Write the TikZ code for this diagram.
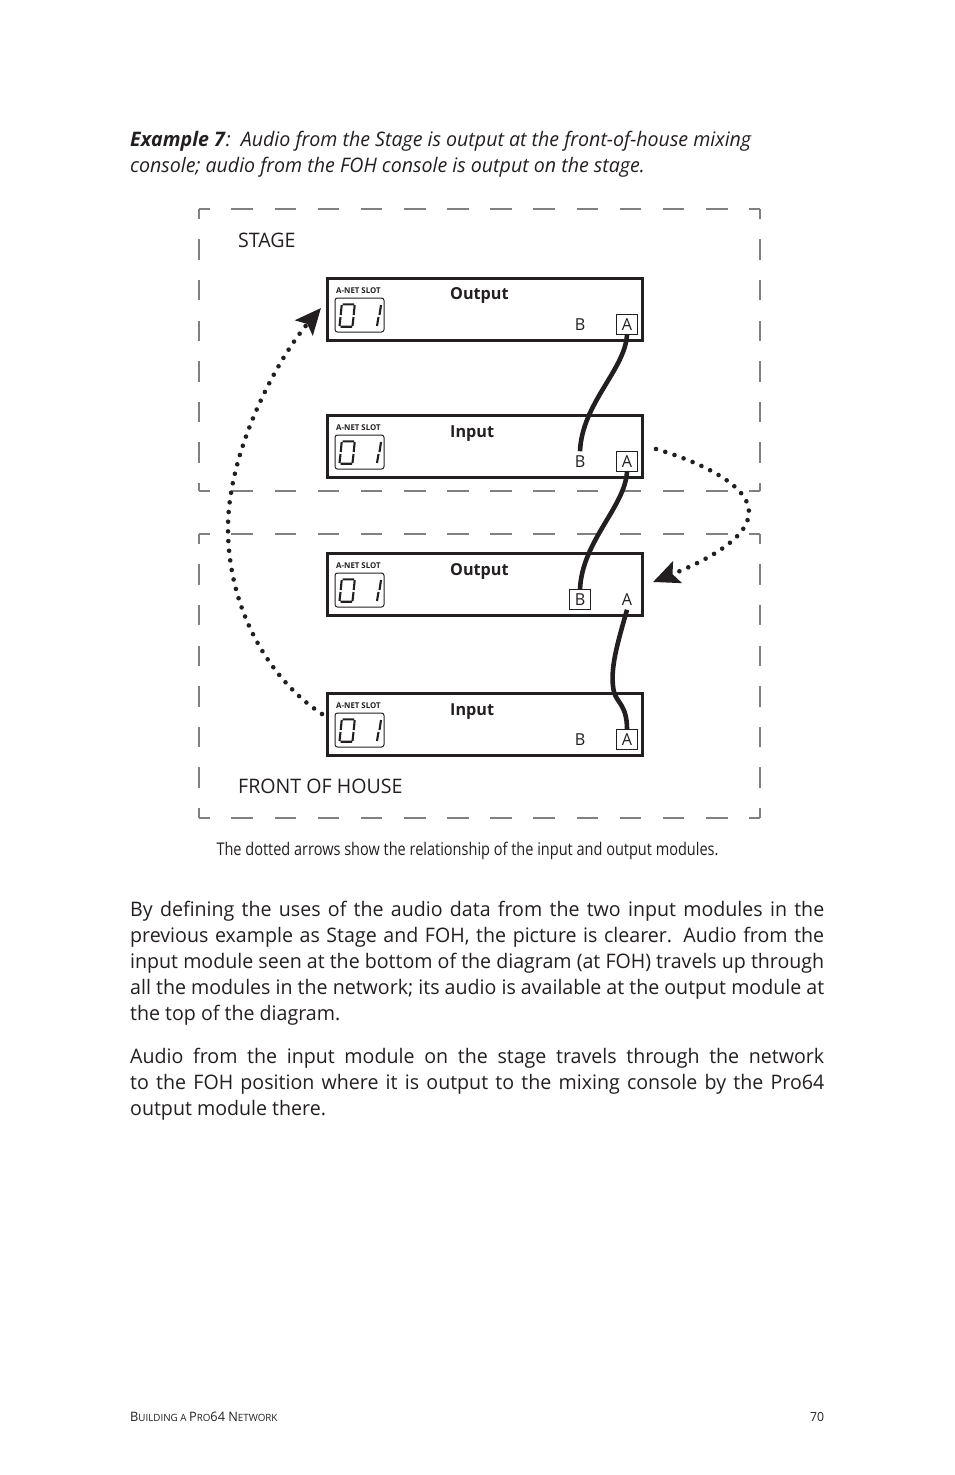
\documentclass[tikz,border=0pt]{standalone}
\usepackage{fontspec}
\usepackage{xcolor}
\usetikzlibrary{arrows.meta}
\setmainfont{Open Sans}[FakeStretch=0.98]
\newfontfamily\capfont{Open Sans}[FakeStretch=0.83]
\definecolor{pageink}{HTML}{231F20}
\definecolor{zonegray}{HTML}{808080}

\begin{document}
\begin{tikzpicture}[x=1pt,y=-1pt,
  point/.style={coordinate},
  module/.style={draw=pageink, line width=3pt, rectangle, anchor=north west, outer sep=0pt, minimum width=315.5pt, minimum height=62.5pt},
  slot/.style={draw=pageink, line width=1pt, rounded corners=2.5pt},
  segment/.style={draw=pageink, line width=2.1pt},
  plainport/.style={text=pageink, font=\fontsize{16.5}{18}\selectfont, inner sep=0pt, minimum width=21pt, minimum height=20.5pt, outer sep=0pt},
  boxedport/.style={plainport, draw=pageink, line width=1pt},
  cable/.style={draw=pageink, line width=4.6pt},
  relation/.style={draw=pageink, line width=4.6pt, line cap=round, dash pattern=on 0pt off 9.7pt, -{Stealth[length=26pt,width=23pt,inset=5pt]}},
  zoneh/.style={draw=zonegray, line width=1.1pt, dash pattern=on 21.55pt off 21.6pt, dash phase=10.8pt},
  zonev/.style={draw=zonegray, line width=1.1pt, dash pattern=on 20.3pt off 20.3pt, dash phase=10.15pt},
  line/.style={anchor=base west, inner sep=0pt, text=pageink, font=\fontsize{20}{26}\selectfont},
  para/.style={anchor=north west, inner sep=0pt, text=pageink, text width=694pt, align=justify, font=\fontsize{20}{26}\selectfont}]
\useasboundingbox (0,0) rectangle (954,1475);

\node[line] (head1) at (130,146) {\textbf{\textit{Example 7}}\textit{:\ \ Audio from the Stage is output at the front-of-house mixing}};
\node[line] (head2) at (130,172) {\textit{console; audio from the FOH console is output on the stage.}};

\foreach \ztop/\zbot in {209/491,534/818} {
  \draw[zoneh] (199,\ztop) -- (760,\ztop);
  \draw[zoneh] (199,\zbot) -- (760,\zbot);
  \draw[zonev] (199,\ztop) -- (199,\zbot);
  \draw[zonev] (760,\ztop) -- (760,\zbot);
}
\node[line] (stage) at (238,247) {STAGE};
\node[line] (foh) at (238,793) {FRONT OF HOUSE};

\foreach \n/\y/\lab/\laby/\bport/\aport in {1/278/Output/21.5/plainport/boxedport,2/415/Input/22.3/plainport/boxedport,3/553/Output/22.3/boxedport/plainport,4/693/Input/22.3/plainport/boxedport} {
  \node[module] (mod\n) at (327,\y) {};
  \begin{scope}[shift={(327,\y)}]
  \node[anchor=base west, inner sep=0pt, text=pageink, font=\fontsize{8}{9}\selectfont\bfseries] (slot\n) at (9,15.6) {A-NET SLOT};
  \draw[slot] (8,20) rectangle (57,54);
  \draw[segment] (15.5,26.3) -- (27,26.3) (27.7,27) -- (26.7,37) (26.5,39) -- (25.5,48) (13.5,48.7) -- (25,48.7) (12.5,48) -- (13.5,39) (13.7,37) -- (14.7,27);
  \draw[segment] (54,27) -- (52.5,37) (51.5,39) -- (50,48);
  \node[anchor=base west, inner sep=0pt, text=pageink, font=\fontsize{16.5}{18}\selectfont\bfseries] (lab\n) at (123,\laby) {\lab};
  \node[\bport] (b\n) at (253,46.5) {B};
  \node[\aport] (a\n) at (300,46.5) {A};
  \end{scope}
}

\draw[cable] (a1.south) .. controls +(-2,35) and +(2,-48) .. (b2.north);
\draw[cable] (a2.south) .. controls +(-2,35) and +(2,-48) .. (b3.north);
\draw[cable] (a3.south) .. controls +(-9,32) and +(-5,-22) .. (614,692) .. controls +(3,11) and +(0,-24) .. (a4.north);

\node[point] (infoh) at (322,714) {};
\node[point] (outstage) at (321,308) {};
\node[point] (instage) at (656,449) {};
\node[point] (outfoh) at (653,582) {};
\draw[relation] (infoh) .. controls +(-52,-34) and +(0,82) .. (228,528) .. controls +(0,-78) and +(-43,50) .. (outstage);
\draw[relation] (instage) .. controls +(44,13) and +(0,-27) .. (749,512) .. controls +(0,28) and +(47,-19) .. (outfoh);

\node[line, anchor=base, font=\capfont\fontsize{17.5}{20}\selectfont] (caption) at (467.5,855) {The dotted arrows show the relationship of the input and output modules.};

\node[para] (para1) at (130,901) {By defining the uses of the audio data from the two input modules in the\linebreak previous example as Stage and FOH, the picture is clearer. Audio from the\linebreak input module seen at the bottom of the diagram (at FOH) travels up through\linebreak all the modules in the network; its audio is available at the output module at\linebreak the top of the diagram.};
\node[para] (para2) at (130,1048) {Audio from the input module on the stage travels through the network\linebreak to the FOH position where it is output to the mixing console by the Pro64\linebreak output module there.};

\node[line, font=\fontsize{13}{14}\selectfont] (foot) at (130,1421) {B\fontsize{10}{14}\selectfont UILDING A \fontsize{13}{14}\selectfont P\fontsize{10}{14}\selectfont RO\fontsize{13}{14}\selectfont 64 N\fontsize{10}{14}\selectfont ETWORK};
\node[line, font=\fontsize{12.5}{14}\selectfont] (pageno) at (810,1421) {70};
\end{tikzpicture}
\end{document}
